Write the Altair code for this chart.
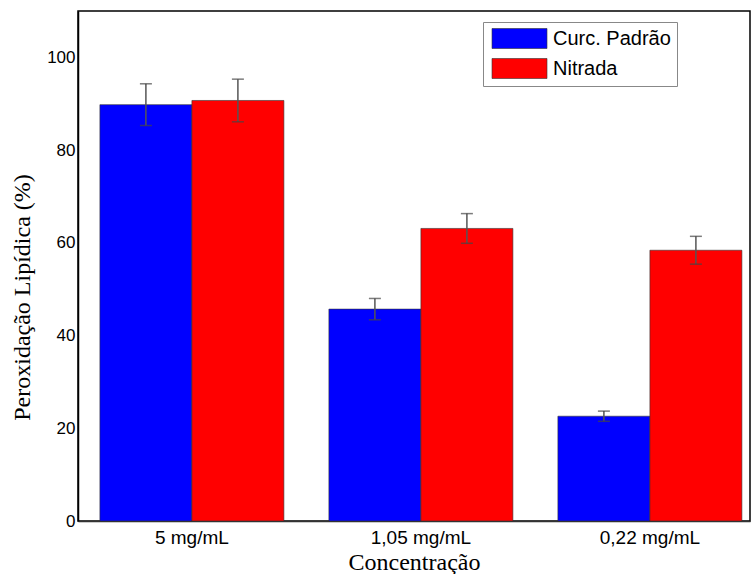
import altair as alt
import pandas as pd

concs = ["5 mg/mL", "1,05 mg/mL", "0,22 mg/mL"]
groups = ["Curc. Padrão", "Nitrada"]
curc_vals = [89.8, 45.7, 22.6]
curc_err = [4.5, 2.3, 1.1]
nitr_vals = [90.7, 63.1, 58.4]
nitr_err = [4.6, 3.2, 3.0]
colors = ["#0000FF", "#FF0000"]

rows = []
for i, c in enumerate(concs):
    rows.append({"conc": c, "group": groups[0], "value": curc_vals[i], "err": curc_err[i]})
    rows.append({"conc": c, "group": groups[1], "value": nitr_vals[i], "err": nitr_err[i]})
df = pd.DataFrame(rows)
df["lo"] = df["value"] - df["err"]
df["hi"] = df["value"] + df["err"]

xscale = alt.Scale(domain=concs, paddingInner=0.1965, paddingOuter=0.0655, align=0.73)
x = alt.X("conc:N", sort=concs, scale=xscale,
          axis=alt.Axis(title="Concentração", labelAngle=0, ticks=False,
                        labelFont="Liberation Sans", labelFontSize=19, labelColor="black",
                        labelPadding=7, titleFont="Liberation Serif", titleFontSize=24,
                        titleFontWeight="normal", titleColor="black", titlePadding=3,
                        domainColor="#333333", domainWidth=1.5))
xoff = alt.XOffset("group:N", sort=groups, scale=alt.Scale(domain=groups, paddingInner=0, paddingOuter=0))
yscale = alt.Scale(domain=[0, 110], nice=False)

sym = "M-2.75,-1 H2.75 V1 H-2.75 Z"

bars = alt.Chart(df).mark_bar(stroke="#333333", strokeWidth=0.6).encode(
    x=x,
    xOffset=xoff,
    y=alt.Y("value:Q", scale=yscale,
            axis=alt.Axis(title="Peroxidação Lipídica (%)", values=[0, 20, 40, 60, 80, 100],
                          ticks=False, grid=False, labelFont="Liberation Sans",
                          labelFontSize=17, labelColor="black", labelPadding=3,
                          titleFont="Liberation Serif", titleFontSize=24,
                          titleFontWeight="normal", titleColor="black", titlePadding=12,
                          titleY=286, domainColor="black", domainWidth=1.5)),
    color=alt.Color("group:N", sort=groups,
                    scale=alt.Scale(domain=groups, range=colors),
                    legend=alt.Legend(title=None, orient="none", legendX=405, legendY=11,
                                      symbolType=sym, symbolSize=400,
                                      symbolStrokeColor="#333333", symbolStrokeWidth=0.6,
                                      symbolOffset=20,
                                      labelFont="Liberation Sans", labelFontSize=20,
                                      labelColor="black", rowPadding=7, padding=6,
                                      labelOffset=23,
                                      fillColor="white", strokeColor="#888888")),
)

rules = alt.Chart(df).mark_rule(color="#555555", strokeWidth=1.5).encode(
    x=alt.X("conc:N", sort=concs, scale=xscale),
    xOffset=xoff,
    y=alt.Y("lo:Q", scale=yscale),
    y2="hi:Q",
)
caps = alt.Chart(df).transform_fold(["lo", "hi"], as_=["k", "v"]).mark_tick(
    color="#444444", thickness=1.5, size=12).encode(
    x=alt.X("conc:N", sort=concs, scale=xscale),
    xOffset=xoff,
    y=alt.Y("v:Q", scale=yscale),
)

chart = alt.layer(bars, rules, caps).properties(
    width=672, height=510,
    autosize=alt.AutoSizeParams(type="none"),
    padding={"left": 78, "top": 11, "right": 3, "bottom": 53},
    background="white",
).configure_view(stroke="black", strokeWidth=1.5)

chart.save("out.html", embed_options={"renderer": "svg", "actions": False})
